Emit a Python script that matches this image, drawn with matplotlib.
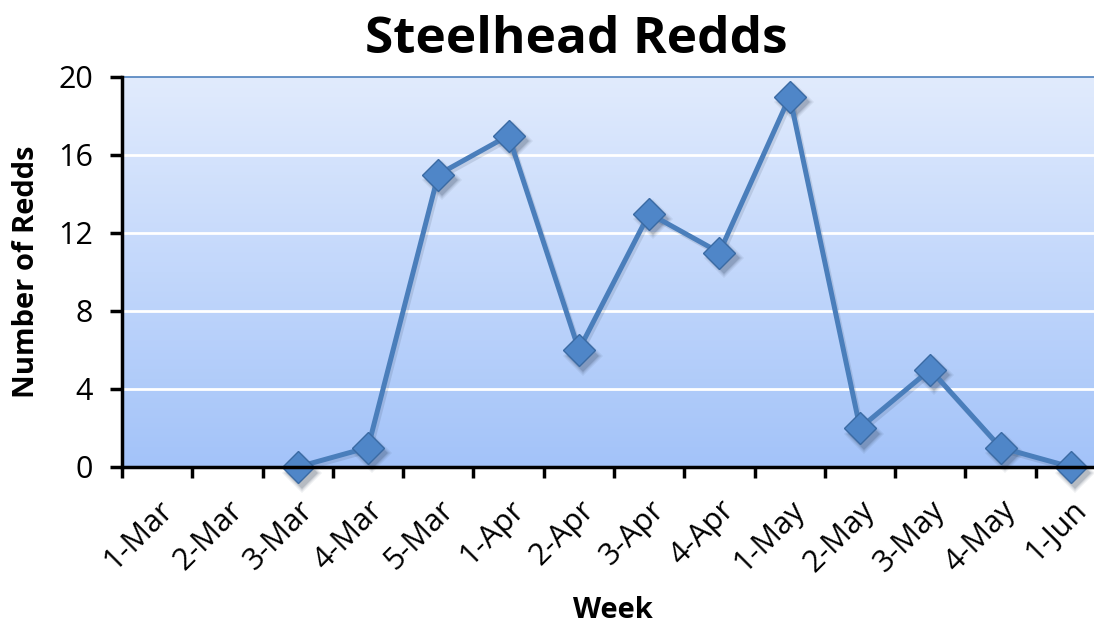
import numpy as np
import matplotlib
matplotlib.use("Agg")
import matplotlib.pyplot as plt
import matplotlib.transforms as mtransforms

plt.rcParams['font.family'] = ['Open Sans', 'DejaVu Sans']

# weekly redd counts (first two weeks had no survey)
weeks = ['1-Mar', '2-Mar', '3-Mar', '4-Mar', '5-Mar', '1-Apr', '2-Apr',
         '3-Apr', '4-Apr', '1-May', '2-May', '3-May', '4-May', '1-Jun']
redds = [np.nan, np.nan, 0, 1, 15, 17, 6, 13, 11, 19, 2, 5, 1, 0]
yticks = [0, 4, 8, 12, 16, 20]

W, H = 1094, 626
fig = plt.figure(figsize=(W / 100, H / 100), dpi=100)
ax = fig.add_axes([122 / W, (H - 467) / H, (1106 - 122) / W, (467 - 77) / H])

x = np.arange(len(weeks))
ax.set_xlim(-0.5, len(weeks) - 0.5)
ax.set_ylim(0, 20)

# gradient background, light at top, deeper blue at bottom
grad = np.linspace(0, 1, 256).reshape(-1, 1)
top = np.array([225, 235, 253]) / 255
bot = np.array([163, 195, 249]) / 255
img = top * (1 - grad[..., None]) + bot * grad[..., None]
ax.imshow(img, extent=[-0.5, len(weeks) - 0.5, 0, 20], aspect='auto',
          zorder=0, origin='upper')

for yv in yticks[1:-1]:
    ax.axhline(yv, color='white', lw=2, zorder=1)

# soft drop shadow under the markers
for ms, a in [(20, 0.07), (18, 0.11), (16, 0.17)]:
    shadow = mtransforms.offset_copy(ax.transData, fig=fig, x=3, y=-4, units='points')
    ax.plot(x, redds, ls='none', marker='D', markersize=ms, color='#1a2a40',
            alpha=a, markeredgewidth=0, transform=shadow, zorder=2, clip_on=False)
shadow = mtransforms.offset_copy(ax.transData, fig=fig, x=1.5, y=-2, units='points')
ax.plot(x, redds, color='#1a2a40', lw=3.6, alpha=0.12, transform=shadow, zorder=2)

ax.plot(x, redds, color='#4a7ebb', lw=3.6, zorder=3, clip_on=False,
        marker='D', markersize=16, markerfacecolor='#4f86c8',
        markeredgecolor='#3a6aa3', markeredgewidth=1)

ax.set_xticks(np.arange(len(weeks) + 1) - 0.5, minor=False)
ax.set_xticklabels([])
ax.set_xticks(x, minor=True)
ax.set_xticklabels(weeks, minor=True, rotation=45, ha='right', va='top',
                   rotation_mode='anchor', fontsize=22)
ax.tick_params(axis='x', which='minor', length=0, pad=20)
ax.tick_params(axis='x', which='major', length=8, width=2.5, direction='out')
ax.set_yticks(yticks)
ax.set_yticklabels([str(v) for v in yticks], fontsize=22)
ax.tick_params(axis='y', length=9, width=2.5, direction='out', pad=12)

for s in ['left', 'bottom']:
    ax.spines[s].set_linewidth(2.5)
    ax.spines[s].set_color('black')
    ax.spines[s].set_zorder(4)
ax.spines['top'].set_color('#4f81bd')
ax.spines['top'].set_linewidth(1.2)
ax.spines['right'].set_visible(False)

ax.set_ylabel('Number of Redds', fontsize=21, fontweight='bold', labelpad=12)
fig.text(613 / W, 1 - 610 / H, 'Week', fontsize=21, fontweight='bold',
         ha='center', va='center')
fig.text(576 / W, 1 - 40 / H, 'Steelhead Redds', fontsize=37, fontweight='bold',
         ha='center', va='center')

fig.savefig('out.png', dpi=100)
